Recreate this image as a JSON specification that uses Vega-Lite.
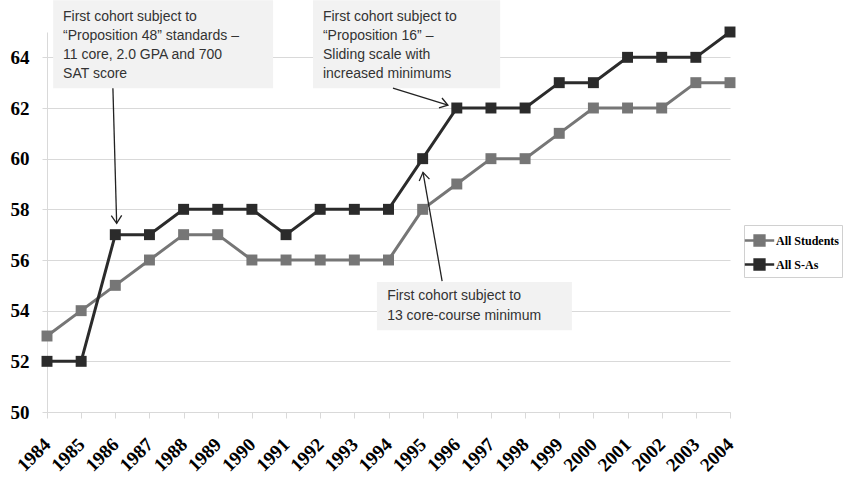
{
  "$schema": "https://vega.github.io/schema/vega-lite/v6.json",
  "width": 683,
  "height": 380,
  "autosize": "none",
  "padding": {"left": 47, "top": 32, "right": 125, "bottom": 66},
  "background": "white",
  "config": {
    "view": {"stroke": null},
    "font": "Liberation Sans",
    "axis": {
      "domainColor": "#d9d9d9",
      "tickColor": "#d9d9d9",
      "gridColor": "#d9d9d9",
      "labelFont": "Liberation Serif",
      "labelFontWeight": "bold",
      "labelColor": "#000000"
    }
  },
  "datasets": {
    "series": [
      {"year": 1984, "series": "All Students", "value": 53},
      {"year": 1985, "series": "All Students", "value": 54},
      {"year": 1986, "series": "All Students", "value": 55},
      {"year": 1987, "series": "All Students", "value": 56},
      {"year": 1988, "series": "All Students", "value": 57},
      {"year": 1989, "series": "All Students", "value": 57},
      {"year": 1990, "series": "All Students", "value": 56},
      {"year": 1991, "series": "All Students", "value": 56},
      {"year": 1992, "series": "All Students", "value": 56},
      {"year": 1993, "series": "All Students", "value": 56},
      {"year": 1994, "series": "All Students", "value": 56},
      {"year": 1995, "series": "All Students", "value": 58},
      {"year": 1996, "series": "All Students", "value": 59},
      {"year": 1997, "series": "All Students", "value": 60},
      {"year": 1998, "series": "All Students", "value": 60},
      {"year": 1999, "series": "All Students", "value": 61},
      {"year": 2000, "series": "All Students", "value": 62},
      {"year": 2001, "series": "All Students", "value": 62},
      {"year": 2002, "series": "All Students", "value": 62},
      {"year": 2003, "series": "All Students", "value": 63},
      {"year": 2004, "series": "All Students", "value": 63},
      {"year": 1984, "series": "All S-As", "value": 52},
      {"year": 1985, "series": "All S-As", "value": 52},
      {"year": 1986, "series": "All S-As", "value": 57},
      {"year": 1987, "series": "All S-As", "value": 57},
      {"year": 1988, "series": "All S-As", "value": 58},
      {"year": 1989, "series": "All S-As", "value": 58},
      {"year": 1990, "series": "All S-As", "value": 58},
      {"year": 1991, "series": "All S-As", "value": 57},
      {"year": 1992, "series": "All S-As", "value": 58},
      {"year": 1993, "series": "All S-As", "value": 58},
      {"year": 1994, "series": "All S-As", "value": 58},
      {"year": 1995, "series": "All S-As", "value": 60},
      {"year": 1996, "series": "All S-As", "value": 62},
      {"year": 1997, "series": "All S-As", "value": 62},
      {"year": 1998, "series": "All S-As", "value": 62},
      {"year": 1999, "series": "All S-As", "value": 63},
      {"year": 2000, "series": "All S-As", "value": 63},
      {"year": 2001, "series": "All S-As", "value": 64},
      {"year": 2002, "series": "All S-As", "value": 64},
      {"year": 2003, "series": "All S-As", "value": 64},
      {"year": 2004, "series": "All S-As", "value": 65}
    ],
    "boxes": [
      {"id": "a", "year": 1984.18, "year2": 1990.62, "value": 66.25, "value2": 62.78},
      {"id": "b", "year": 1991.79, "year2": 1997.27, "value": 66.25, "value2": 62.78},
      {"id": "c", "year": 1993.66, "year2": 1999.37, "value": 55.13, "value2": 53.23}
    ],
    "notes": [
      {"year": 1984.47, "value": 65.58, "text": "First cohort subject to"},
      {"year": 1984.47, "value": 64.83, "text": "“Proposition 48” standards –"},
      {"year": 1984.47, "value": 64.08, "text": "11 core, 2.0 GPA and 700"},
      {"year": 1984.47, "value": 63.33, "text": "SAT score"},
      {"year": 1992.08, "value": 65.58, "text": "First cohort subject to"},
      {"year": 1992.08, "value": 64.83, "text": "“Proposition 16” –"},
      {"year": 1992.08, "value": 64.08, "text": "Sliding scale with"},
      {"year": 1992.08, "value": 63.33, "text": "increased minimums"},
      {"year": 1993.96, "value": 54.57, "text": "First cohort subject to"},
      {"year": 1993.96, "value": 53.79, "text": "13 core-course minimum"}
    ],
    "arrows": [
      {"id": "a", "year": 1986.04, "value": 57.45, "year2": 1985.93, "value2": 62.78},
      {"id": "b", "year": 1995.74, "value": 62.11, "year2": 1994.13, "value2": 62.78},
      {"id": "c", "year": 1995.01, "value": 59.46, "year2": 1995.57, "value2": 55.17}
    ]
  },
  "encoding": {
    "x": {
      "field": "year", "type": "quantitative",
      "scale": {"domain": [1984, 2004], "nice": false, "zero": false},
      "axis": {
        "title": null,
        "values": [1984,1985,1986,1987,1988,1989,1990,1991,1992,1993,1994,1995,1996,1997,1998,1999,2000,2001,2002,2003,2004],
        "format": "d", "grid": false, "tickSize": 6, "labelAngle": -45,
        "labelAlign": "right", "labelBaseline": "middle", "labelFontSize": 19,
        "labelPadding": 23, "labelOverlap": false, "labelFlush": false, "labelBound": false
      }
    },
    "y": {
      "field": "value", "type": "quantitative",
      "scale": {"domain": [50, 65], "nice": false, "zero": false},
      "axis": {
        "title": null,
        "values": [50,52,54,56,58,60,62,64],
        "grid": true, "tickSize": 5, "labelPadding": 13, "labelFontSize": 19
      }
    }
  },
  "layer": [
    {
      "data": {"name": "boxes"},
      "mark": {"type": "rect", "fill": "#f2f2f2", "clip": false},
      "encoding": {
        "x2": {"field": "year2"},
        "y2": {"field": "value2"}
      }
    },
    {
      "data": {"name": "series"},
      "mark": {"type": "line", "strokeWidth": 3},
      "encoding": {
        "color": {
          "field": "series", "type": "nominal",
          "scale": {"domain": ["All Students", "All S-As"], "range": ["#767676", "#2b2b2b"]},
          "legend": {
            "orient": "none", "legendX": 697, "legendY": 193, "title": null,
            "symbolType": "M-1.2,0L1.2,0M-0.4,-0.4L0.4,-0.4L0.4,0.4L-0.4,0.4Z",
            "symbolSize": 600, "symbolStrokeWidth": 2.5,
            "labelFont": "Liberation Serif", "labelFontWeight": "bold", "labelFontSize": 12,
            "labelColor": "#000000", "strokeColor": "#d0d0d0", "padding": 2,
            "rowPadding": 0, "labelOffset": 3,
            "encode": {"symbols": {"update": {
              "fill": {"scale": "color", "field": "value"},
              "stroke": {"scale": "color", "field": "value"}
            }}}
          }
        }
      }
    },
    {
      "data": {"name": "series"},
      "mark": {"type": "point", "shape": "square", "size": 120, "filled": true, "opacity": 1},
      "encoding": {
        "color": {"field": "series", "type": "nominal"}
      }
    },
    {
      "data": {"name": "notes"},
      "mark": {"type": "text", "align": "left", "baseline": "middle", "fontSize": 14, "font": "Liberation Sans", "color": "#333333"},
      "encoding": {
        "text": {"field": "text", "type": "nominal"}
      }
    },
    {
      "data": {"name": "arrows"},
      "mark": {"type": "rule", "color": "#222222", "strokeWidth": 1.3},
      "encoding": {
        "x2": {"field": "year2"},
        "y2": {"field": "value2"}
      }
    },
    {
      "data": {"name": "arrows"},
      "transform": [{"filter": "datum.id == 'a'"}],
      "mark": {"type": "point", "shape": "M-0.6,0.9L0,0L0.6,0.9", "filled": false, "stroke": "#222222", "strokeWidth": 1.3, "size": 300, "angle": 178.7, "opacity": 1}
    },
    {
      "data": {"name": "arrows"},
      "transform": [{"filter": "datum.id == 'b'"}],
      "mark": {"type": "point", "shape": "M-0.6,0.9L0,0L0.6,0.9", "filled": false, "stroke": "#222222", "strokeWidth": 1.3, "size": 300, "angle": 107, "opacity": 1}
    },
    {
      "data": {"name": "arrows"},
      "transform": [{"filter": "datum.id == 'c'"}],
      "mark": {"type": "point", "shape": "M-0.6,0.9L0,0L0.6,0.9", "filled": false, "stroke": "#222222", "strokeWidth": 1.3, "size": 300, "angle": -10, "opacity": 1}
    }
  ]
}
